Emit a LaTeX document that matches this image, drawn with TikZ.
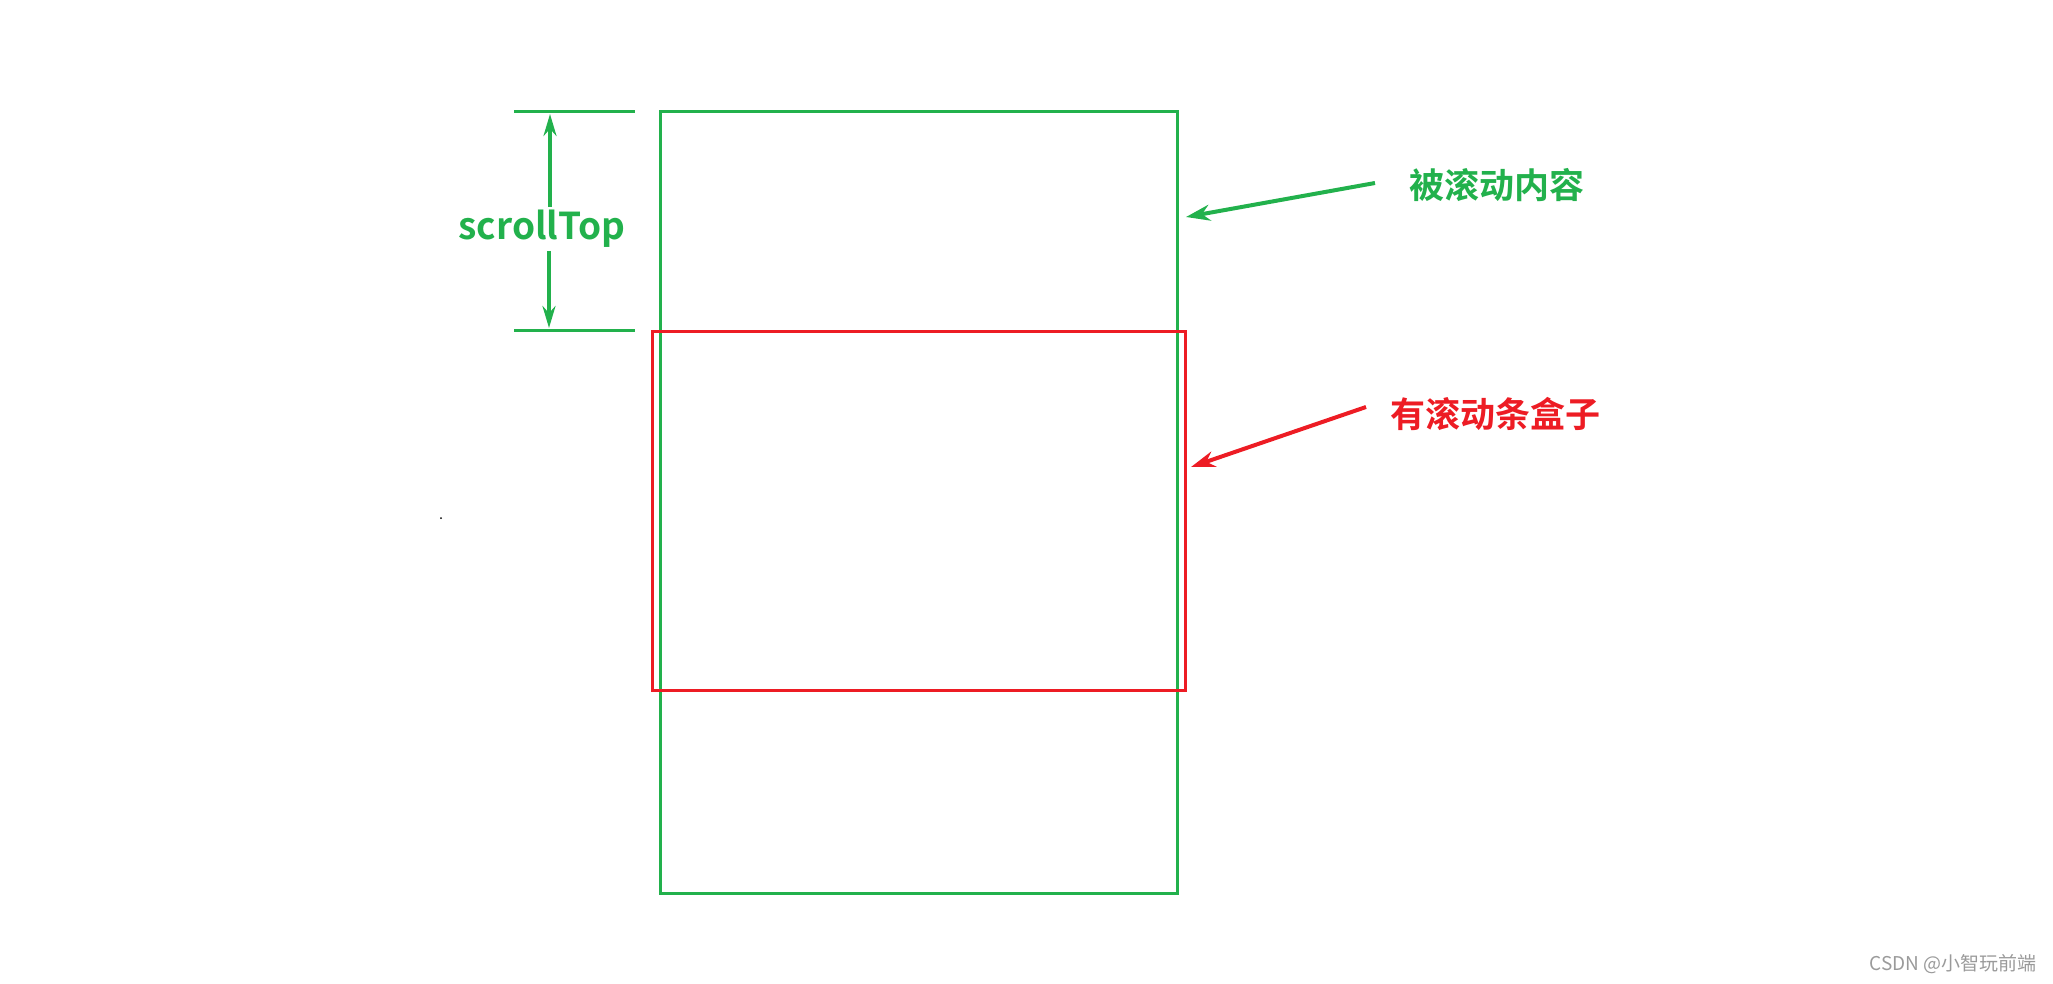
\documentclass[tikz,border=0pt]{standalone}
\usepackage{fontspec}
\setmainfont{Noto Sans CJK SC}
\newfontfamily\cjkb{Noto Sans CJK SC Bold}
\newfontfamily\cjkr{Noto Sans CJK SC}
\usetikzlibrary{arrows.meta}
\definecolor{pgreen}{HTML}{22B14C}
\definecolor{pred}{HTML}{ED1C24}
\definecolor{wgray}{HTML}{9A9A9A}
\tikzset{
  gbox/.style={draw=pgreen, line width=3pt},
  rbox/.style={draw=pred, line width=3pt},
  dimline/.style={draw=pgreen, line width=3pt},
  dimarrow/.style={draw=pgreen, line width=3.5pt, -{Stealth[length=22pt,width=13pt]}},
  garrow/.style={draw=pgreen, line width=4pt, -{Stealth[length=24pt,width=16pt]}},
  rarrow/.style={draw=pred, line width=4pt, -{Stealth[length=24pt,width=16pt]}},
  glabel/.style={text=pgreen, font=\cjkb\fontsize{35}{38}\selectfont, inner sep=0pt},
  rlabel/.style={text=pred, font=\cjkb\fontsize{35}{38}\selectfont, inner sep=0pt},
}
\begin{document}
\begin{tikzpicture}[x=1pt,y=-1pt]
\useasboundingbox (0,0) rectangle (2053,983);
% green content box
\draw[gbox] (660,111) rectangle (1177,893);
% red scroll box
\draw[rbox] (652,331) rectangle (1185,690);
% dimension lines
\coordinate (t1) at (514,111); \coordinate (t2) at (635,111);
\coordinate (b1) at (514,330); \coordinate (b2) at (635,330);
\draw[dimline] (t1) -- (t2);
\draw[dimline] (b1) -- (b2);
\node[glabel, font=\cjkb\fontsize{37}{40}\selectfont] (st) at (542,229) {scrollTop};
\coordinate (ua) at (550,114);
\coordinate (da) at (549,328);
\draw[dimarrow] (st.north -| ua) ++(0,-3) coordinate (stn) (stn) -- (ua);
\draw[dimarrow] (st.south -| da) ++(0,3) coordinate (sts) (sts) -- (da);
% labels
\node[glabel] (lg) at (1497,185) {被滚动内容};
\node[rlabel] (lr) at (1495,414) {有滚动条盒子};
\coordinate (gs) at (1375,183); \coordinate (gt) at (1186,217);
\coordinate (rs) at (1366,407); \coordinate (rt) at (1191,467);
\draw[garrow] (gs) -- (gt);
\draw[rarrow] (rs) -- (rt);
% small dot
\fill[black] (441,518) circle (1pt);
% watermark
\node[text=wgray, font=\cjkr\fontsize{19}{21}\selectfont, inner sep=0pt, anchor=east] (wm) at (2037,964) {CSDN @小智玩前端};
\end{tikzpicture}
\end{document}
